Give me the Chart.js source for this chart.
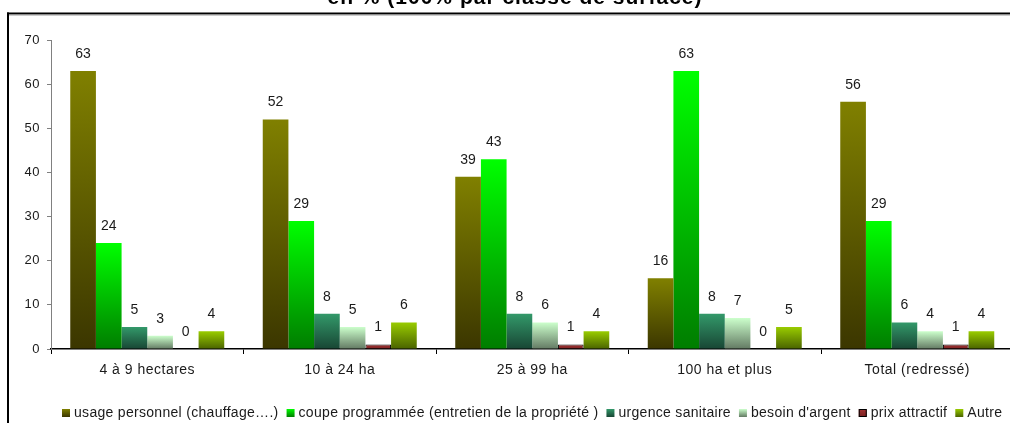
<!DOCTYPE html>
<html lang="fr">
<head>
<meta charset="utf-8">
<script src="https://cdn.jsdelivr.net/npm/chart.js@4.4.1/dist/chart.umd.min.js"></script>
<style>
  html, body { margin: 0; padding: 0; background: #fff; overflow: hidden; width: 1010px; height: 423px; }
  #wrap { position: absolute; left: 0; top: 0; width: 1030px; height: 423px; }
  canvas { display: block; }
</style>
</head>
<body>
<div id="wrap"><canvas id="c" width="1030" height="423"></canvas></div>
<script>
// Survey classes (area of the property)
const categories = ['4 à 9 hectares', '10 à 24 ha', '25 à 99 ha', '100 ha et plus', 'Total (redressé)'];

// Reasons given, one series each
const seriesNames = [
  'usage personnel (chauffage….)',
  'coupe programmée (entretien de la propriété )',
  'urgence sanitaire',
  'besoin d\'argent',
  'prix attractif',
  'Autre'
];
const usagePersonnel   = [63, 52, 39, 16, 56];
const coupeProgrammee  = [24, 29, 43, 63, 29];
const urgenceSanitaire = [5, 8, 8, 8, 6];
const besoinArgent     = [3, 5, 6, 7, 4];
const prixAttractif    = [0, 1, 1, 0, 1];
const autre            = [4, 6, 4, 5, 4];

// Value axis ticks (%)
const yTicks = [0, 10, 20, 30, 40, 50, 60, 70];

const chartTitle = 'en % (100% par classe de surface)';

// Vertical shading of each series: [top colour, bottom colour]
const shades = [
  ['#808000', '#3b3600'],
  ['#00ff00', '#007d00'],
  ['#33996a', '#184634'],
  ['#ccffcc', '#637a63'],
  ['#a33333', '#7a2222'],
  ['#99cc00', '#4a6300']
];

const seriesValues = [usagePersonnel, coupeProgrammee, urgenceSanitaire, besoinArgent, prixAttractif, autre];

const FONT = '"Liberation Sans", Arial, sans-serif';

function barFill(i) {
  return (ctx) => {
    const chart = ctx.chart;
    const [top, bottom] = shades[i];
    const ys = chart.scales && chart.scales.y;
    if (ctx.type !== 'data' || !ys) return top;
    const y0 = ys.getPixelForValue(0);
    const y1 = ys.getPixelForValue(ctx.raw);
    if (!isFinite(y0) || !isFinite(y1) || Math.abs(y0 - y1) < 0.5) return top;
    const g = chart.ctx.createLinearGradient(0, y1, 0, y0);
    g.addColorStop(0, top);
    g.addColorStop(1, bottom);
    return g;
  };
}

const datasets = seriesValues.map((vals, i) => ({
  label: seriesNames[i],
  data: vals,
  backgroundColor: barFill(i),
  borderColor: i === 4 ? '#000' : 'rgba(0,0,0,0)',
  borderWidth: i === 4 ? 1 : 0,
  barPercentage: 1.0,
  categoryPercentage: 0.8
}));

// Text spacing for axis labels, reset before the bars are drawn
const spacingPlugin = {
  id: 'spacing',
  beforeDraw(chart) { chart.ctx.letterSpacing = '0.5px'; },
  beforeDatasetsDraw(chart) { chart.ctx.letterSpacing = '0px'; }
};

// Numbers above each bar
const valueLabels = {
  id: 'valueLabels',
  afterDatasetsDraw(chart) {
    const ctx = chart.ctx;
    ctx.save();
    ctx.letterSpacing = '0px';
    ctx.font = '14px ' + FONT;
    ctx.fillStyle = '#1a1a1a';
    ctx.textAlign = 'center';
    ctx.textBaseline = 'middle';
    chart.data.datasets.forEach((ds, di) => {
      const meta = chart.getDatasetMeta(di);
      meta.data.forEach((bar, i) => {
        ctx.fillText(String(ds.data[i]), bar.x, bar.y - 17);
      });
    });
    ctx.restore();
  }
};

// Frame, title and legend row
const decorations = {
  id: 'decorations',
  afterDraw(chart) {
    const ctx = chart.ctx;
    ctx.save();
    ctx.letterSpacing = '0px';
    // frame (left and top edges)
    ctx.fillStyle = '#000';
    ctx.fillRect(7, 12.5, 2, 500);
    ctx.fillRect(7, 12.5, 1100, 2);
    ctx.fillStyle = '#9a9a9a';
    ctx.fillRect(9, 14.5, 1100, 1);

    // title (its upper part lies above the page)
    ctx.font = 'bold 21px ' + FONT;
    ctx.letterSpacing = '1px';
    ctx.fillStyle = '#000';
    ctx.textAlign = 'center';
    ctx.textBaseline = 'alphabetic';
    ctx.fillText(chartTitle, 515, 4);

    // legend
    ctx.font = '14px ' + FONT;
    ctx.letterSpacing = '0.3px';
    ctx.textAlign = 'left';
    ctx.textBaseline = 'middle';
    const cy = 413;
    let x = 62;
    chart.data.datasets.forEach((ds, i) => {
      const g = ctx.createLinearGradient(0, cy - 4, 0, cy + 4);
      g.addColorStop(0, shades[i][0]);
      g.addColorStop(1, shades[i][1]);
      ctx.fillStyle = g;
      ctx.fillRect(x, cy - 4, 8, 8);
      if (i === 4) {
        ctx.strokeStyle = '#000';
        ctx.lineWidth = 1;
        ctx.strokeRect(x + 0.5, cy - 3.5, 7, 7);
      }
      ctx.fillStyle = '#1a1a1a';
      ctx.fillText(ds.label, x + 12, cy + 0.5);
      x += 12 + ctx.measureText(ds.label).width + 8;
    });
    ctx.restore();
  }
};

new Chart(document.getElementById('c'), {
  type: 'bar',
  data: { labels: categories, datasets },
  plugins: [spacingPlugin, valueLabels, decorations],
  options: {
    responsive: false,
    animation: false,
    devicePixelRatio: 1,
    layout: { padding: { left: 0, top: 40, right: 16.5, bottom: 0 } },
    plugins: {
      legend: { display: false },
      tooltip: { enabled: false },
      title: { display: false }
    },
    scales: {
      x: {
        offset: true,
        grid: { display: true, drawOnChartArea: false, drawTicks: true, tickLength: 5, color: '#000', lineWidth: 1, offset: true },
        border: { display: true, color: '#000', width: 1.5 },
        ticks: { font: { family: FONT, size: 14 }, color: '#1a1a1a', padding: 8, maxRotation: 0, autoSkip: false },
        afterFit(scale) { scale.height = 74; }
      },
      y: {
        min: 0,
        max: 70,
        afterBuildTicks(scale) { scale.ticks = yTicks.map(v => ({ value: v })); },
        grid: { display: true, drawOnChartArea: false, drawTicks: true, tickLength: 4, color: '#808080', lineWidth: 1 },
        border: { display: true, color: '#808080', width: 1 },
        ticks: { font: { family: FONT, size: 13 }, color: '#1a1a1a', padding: 7 },
        afterFit(scale) { scale.width = 51; }
      }
    }
  }
});
</script>
</body>
</html>
